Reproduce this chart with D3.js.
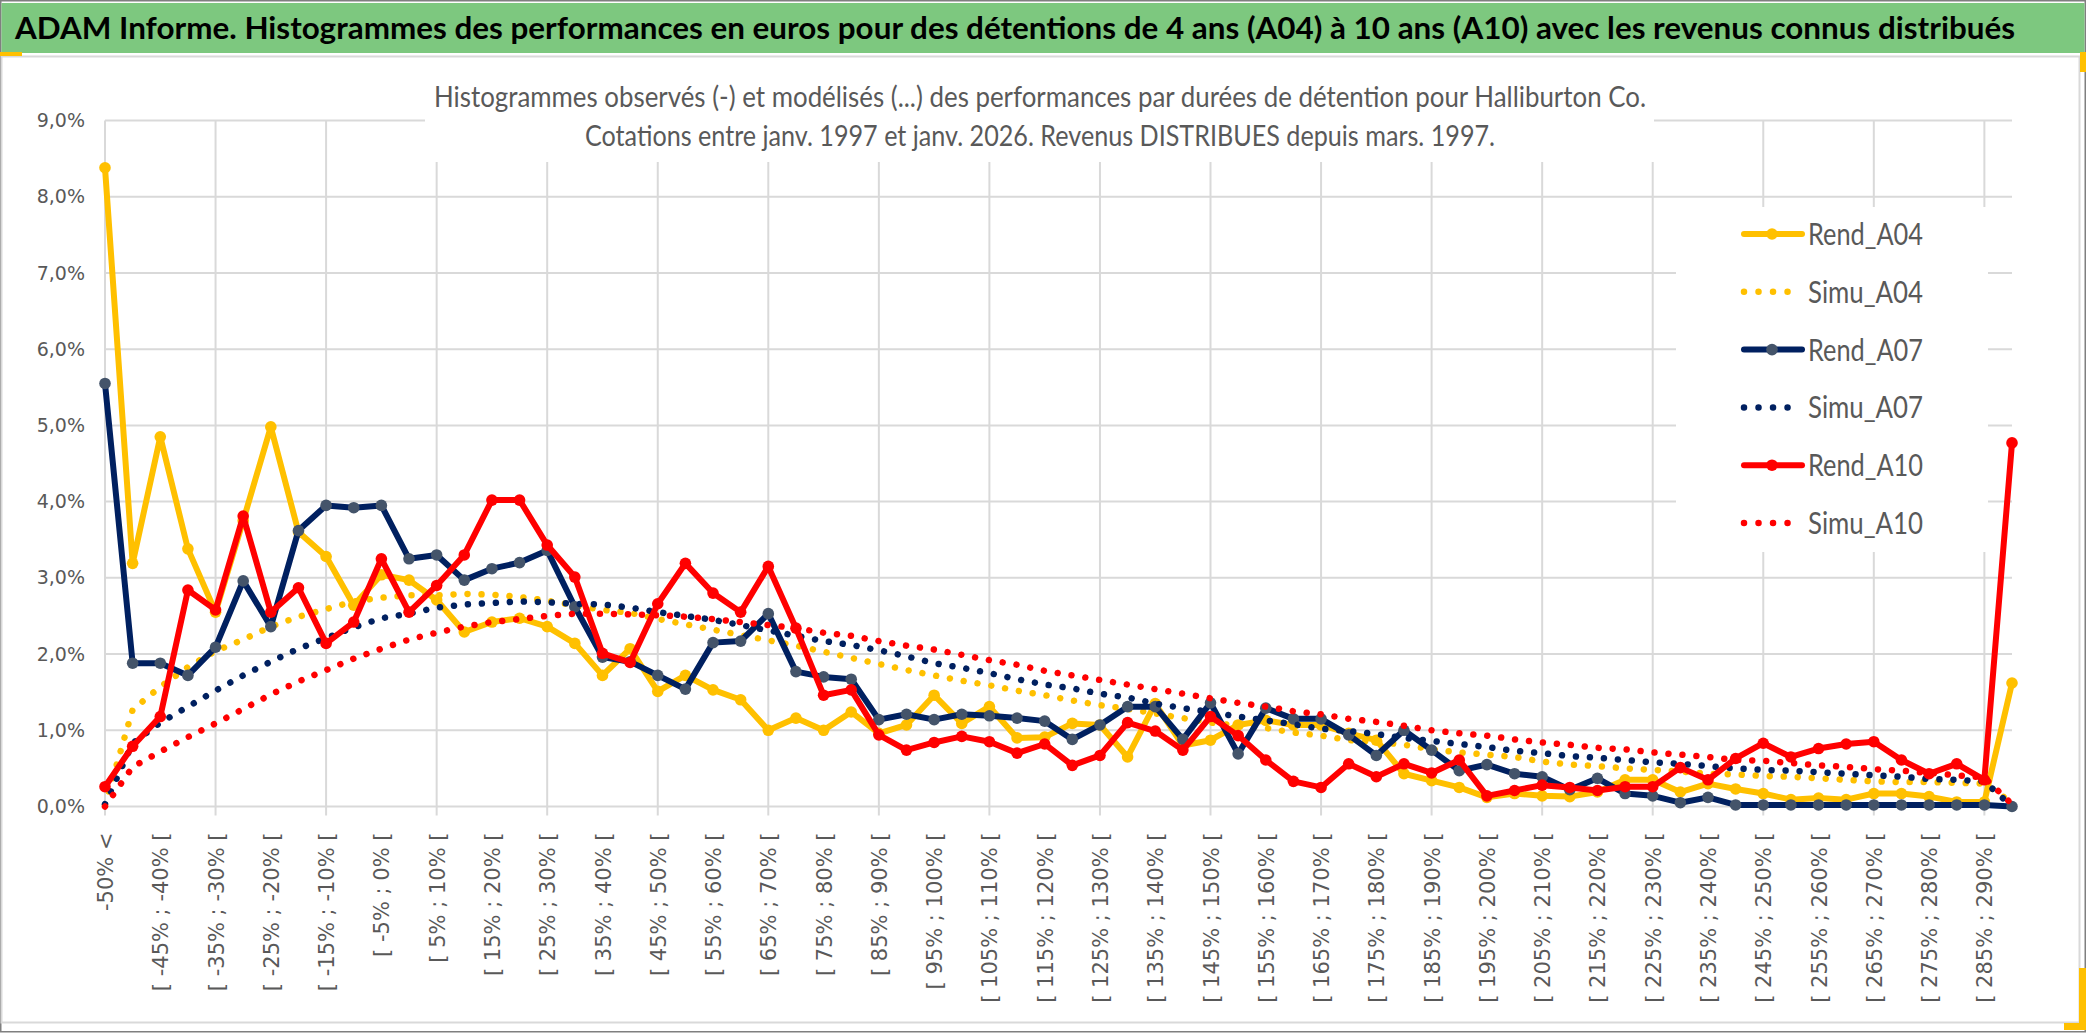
<!DOCTYPE html>
<html>
<head>
<meta charset="utf-8">
<script src="https://cdn.jsdelivr.net/npm/d3@7"></script>
<style>
body { margin: 0; background: #fff; }
svg { display: block; }
</style>
</head>
<body>
<svg width="2086" height="1033"></svg>
<script>
// categories of the histogram (5% classes)
var categories = ["-50% <",
 "[ -50% ; -45% [", "[ -45% ; -40% [", "[ -40% ; -35% [", "[ -35% ; -30% [", "[ -30% ; -25% [", "[ -25% ; -20% [",
 "[ -20% ; -15% [", "[ -15% ; -10% [", "[ -10% ; -5% [", "[ -5% ; 0% [", "[ 0% ; 5% [", "[ 5% ; 10% [",
 "[ 10% ; 15% [", "[ 15% ; 20% [", "[ 20% ; 25% [", "[ 25% ; 30% [", "[ 30% ; 35% [", "[ 35% ; 40% [",
 "[ 40% ; 45% [", "[ 45% ; 50% [", "[ 50% ; 55% [", "[ 55% ; 60% [", "[ 60% ; 65% [", "[ 65% ; 70% [",
 "[ 70% ; 75% [", "[ 75% ; 80% [", "[ 80% ; 85% [", "[ 85% ; 90% [", "[ 90% ; 95% [", "[ 95% ; 100% [",
 "[ 100% ; 105% [", "[ 105% ; 110% [", "[ 110% ; 115% [", "[ 115% ; 120% [", "[ 120% ; 125% [", "[ 125% ; 130% [",
 "[ 130% ; 135% [", "[ 135% ; 140% [", "[ 140% ; 145% [", "[ 145% ; 150% [", "[ 150% ; 155% [", "[ 155% ; 160% [",
 "[ 160% ; 165% [", "[ 165% ; 170% [", "[ 170% ; 175% [", "[ 175% ; 180% [", "[ 180% ; 185% [", "[ 185% ; 190% [",
 "[ 190% ; 195% [", "[ 195% ; 200% [", "[ 200% ; 205% [", "[ 205% ; 210% [", "[ 210% ; 215% [", "[ 215% ; 220% [",
 "[ 220% ; 225% [", "[ 225% ; 230% [", "[ 230% ; 235% [", "[ 235% ; 240% [", "[ 240% ; 245% [", "[ 245% ; 250% [",
 "[ 250% ; 255% [", "[ 255% ; 260% [", "[ 260% ; 265% [", "[ 265% ; 270% [", "[ 270% ; 275% [", "[ 275% ; 280% [",
 "[ 280% ; 285% [", "[ 285% ; 290% [", "> 290%"];

// observed frequencies, in %
var rendA04 = [8.38, 3.19, 4.85, 3.38, 2.55, 3.75, 4.98, 3.60, 3.28, 2.64, 3.04, 2.97, 2.71, 2.29, 2.42, 2.47, 2.36,
 2.14, 1.72, 2.07, 1.51, 1.72, 1.53, 1.40, 1.00, 1.16, 1.00, 1.24, 0.96, 1.07, 1.46, 1.09, 1.31, 0.90, 0.91, 1.09,
 1.07, 0.65, 1.35, 0.80, 0.87, 1.07, 1.13, 1.07, 1.07, 0.96, 0.87, 0.43, 0.34, 0.25, 0.12, 0.17, 0.14, 0.13, 0.19,
 0.35, 0.35, 0.19, 0.30, 0.23, 0.17, 0.09, 0.11, 0.09, 0.17, 0.17, 0.13, 0.06, 0.06, 1.62];
var rendA07 = [5.55, 1.88, 1.88, 1.72, 2.09, 2.96, 2.36, 3.62, 3.95, 3.92, 3.95, 3.25, 3.30, 2.97, 3.12, 3.20, 3.36,
 2.62, 1.96, 1.90, 1.72, 1.54, 2.15, 2.17, 2.53, 1.77, 1.70, 1.67, 1.14, 1.21, 1.14, 1.21, 1.19, 1.16, 1.12, 0.88,
 1.07, 1.31, 1.31, 0.88, 1.36, 0.69, 1.29, 1.15, 1.15, 0.94, 0.67, 1.00, 0.74, 0.47, 0.55, 0.43, 0.39, 0.22, 0.37,
 0.17, 0.14, 0.05, 0.12, 0.02, 0.02, 0.02, 0.02, 0.02, 0.02, 0.02, 0.02, 0.02, 0.02, 0.00];
var rendA10 = [0.26, 0.79, 1.18, 2.84, 2.58, 3.81, 2.55, 2.87, 2.14, 2.42, 3.25, 2.55, 2.90, 3.30, 4.02, 4.02, 3.43,
 3.01, 2.01, 1.89, 2.66, 3.19, 2.80, 2.55, 3.15, 2.34, 1.46, 1.53, 0.94, 0.74, 0.84, 0.92, 0.85, 0.70, 0.82, 0.54,
 0.67, 1.10, 0.99, 0.74, 1.18, 0.93, 0.61, 0.33, 0.25, 0.56, 0.39, 0.56, 0.44, 0.61, 0.14, 0.21, 0.28, 0.25, 0.21,
 0.26, 0.26, 0.51, 0.35, 0.63, 0.83, 0.65, 0.76, 0.82, 0.85, 0.61, 0.43, 0.56, 0.35, 4.77];

// modelled frequencies, in %
var simuA04 = [0.02, 1.27, 1.57, 1.83, 2.04, 2.19, 2.36, 2.49, 2.59, 2.69, 2.74, 2.77, 2.77, 2.79, 2.78, 2.75, 2.70,
 2.64, 2.58, 2.54, 2.46, 2.39, 2.32, 2.25, 2.18, 2.11, 2.03, 1.95, 1.87, 1.79, 1.72, 1.65, 1.59, 1.52, 1.46, 1.39,
 1.33, 1.28, 1.22, 1.16, 1.10, 1.06, 1.03, 0.97, 0.93, 0.87, 0.85, 0.81, 0.75, 0.71, 0.68, 0.65, 0.59, 0.55, 0.53,
 0.50, 0.48, 0.46, 0.43, 0.42, 0.40, 0.39, 0.37, 0.35, 0.33, 0.32, 0.32, 0.31, 0.30, 0.05];
var simuA07 = [0.03, 0.83, 1.10, 1.31, 1.52, 1.72, 1.90, 2.07, 2.21, 2.35, 2.47, 2.53, 2.61, 2.65, 2.67, 2.69, 2.68,
 2.66, 2.65, 2.61, 2.55, 2.50, 2.45, 2.38, 2.31, 2.24, 2.17, 2.12, 2.05, 1.97, 1.88, 1.82, 1.75, 1.67, 1.60, 1.55,
 1.48, 1.43, 1.35, 1.29, 1.24, 1.18, 1.13, 1.08, 1.02, 0.99, 0.95, 0.90, 0.86, 0.82, 0.78, 0.73, 0.70, 0.66, 0.64,
 0.61, 0.58, 0.56, 0.53, 0.50, 0.48, 0.47, 0.45, 0.43, 0.41, 0.39, 0.36, 0.35, 0.33, 0.00];
var simuA10 = [0.00, 0.52, 0.72, 0.91, 1.09, 1.28, 1.47, 1.64, 1.79, 1.94, 2.07, 2.19, 2.28, 2.36, 2.42, 2.46, 2.50,
 2.53, 2.53, 2.52, 2.51, 2.49, 2.46, 2.42, 2.38, 2.34, 2.28, 2.24, 2.17, 2.11, 2.06, 1.99, 1.92, 1.86, 1.78, 1.72,
 1.66, 1.60, 1.54, 1.48, 1.42, 1.36, 1.31, 1.25, 1.21, 1.15, 1.11, 1.06, 1.00, 0.96, 0.93, 0.88, 0.84, 0.81, 0.77,
 0.75, 0.71, 0.68, 0.65, 0.61, 0.60, 0.57, 0.54, 0.52, 0.49, 0.47, 0.44, 0.41, 0.38, 0.03];

var yTicks = [0, 1, 2, 3, 4, 5, 6, 7, 8, 9];

var seriesNames = ["Rend_A04", "Simu_A04", "Rend_A07", "Simu_A07", "Rend_A10", "Simu_A10"];

var titleText = "ADAM Informe. Histogrammes des performances en euros pour des détentions de 4 ans (A04) à 10 ans (A10) avec les revenus connus distribués";
var subTitle1 = "Histogrammes observés (-) et modélisés (...) des performances par durées de détention pour Halliburton Co.";
var subTitle2 = "Cotations entre janv. 1997 et janv. 2026. Revenus DISTRIBUES depuis mars. 1997.";

var series = [
  {name: seriesNames[0], values: rendA04, color: "#FFC000", marker: "#FFC000", dotted: false},
  {name: seriesNames[1], values: simuA04, color: "#FFC000", dotted: true},
  {name: seriesNames[2], values: rendA07, color: "#002060", marker: "#44546A", dotted: false},
  {name: seriesNames[3], values: simuA07, color: "#002060", dotted: true},
  {name: seriesNames[4], values: rendA10, color: "#FF0000", marker: "#FF0000", dotted: false},
  {name: seriesNames[5], values: simuA10, color: "#FF0000", dotted: true}
];

var svg = d3.select("svg");
var grey = "#595959", gridCol = "#D9D9D9";

// image border, title banner and chart frame
svg.append("rect").attr("x", 0.75).attr("y", 0.75).attr("width", 2084.5).attr("height", 1031)
  .attr("fill", "#fff").attr("stroke", "#7f7f7f").attr("stroke-width", 1.5);
svg.append("rect").attr("x", 1.5).attr("y", 3).attr("width", 2083).attr("height", 50).attr("fill", "#7DC87F");
svg.append("rect").attr("x", 1.5).attr("y", 56.5).attr("width", 2078).attr("height", 966)
  .attr("fill", "#fff").attr("stroke", gridCol).attr("stroke-width", 2);
// excel selection handles
svg.append("rect").attr("x", 0).attr("y", 52).attr("width", 22).attr("height", 4).attr("fill", "#FFC000");
svg.append("rect").attr("x", 2080).attr("y", 52).attr("width", 6).attr("height", 20).attr("fill", "#FFC000");
svg.append("rect").attr("x", 2079).attr("y", 968).attr("width", 7).attr("height", 62).attr("fill", "#FFC000");
svg.append("rect").attr("x", 2064).attr("y", 1023).attr("width", 22).attr("height", 7).attr("fill", "#FFC000");

svg.append("text")
  .attr("x", 15).attr("y", 39)
  .attr("textLength", 2000).attr("lengthAdjust", "spacingAndGlyphs")
  .style("font-family", "Lato, 'Open Sans', sans-serif").style("font-weight", "bold")
  .style("font-size", "31px").attr("fill", "#000")
  .text(titleText);

var x = d3.scalePoint().domain(categories).range([105, 2012]);
var y = d3.scaleLinear().domain([0, 9]).range([806.5, 120.5]);

// grid
var g = svg.append("g");
g.selectAll(".hgrid").data(yTicks).enter().append("line")
  .attr("x1", 105).attr("x2", 2012)
  .attr("y1", function(d) { return y(d); }).attr("y2", function(d) { return y(d); })
  .attr("stroke", gridCol).attr("stroke-width", 2);
g.selectAll(".vgrid").data(categories.filter(function(d, i) { return i % 4 == 0; })).enter().append("line")
  .attr("x1", function(d) { return x(d); }).attr("x2", function(d) { return x(d); })
  .attr("y1", y(9)).attr("y2", y(0) + 9)
  .attr("stroke", gridCol).attr("stroke-width", 2);

// y axis labels
var yAxis = svg.append("g").attr("transform", "translate(105,0)")
  .call(d3.axisLeft(y).tickValues(yTicks).tickSize(0).tickPadding(20)
    .tickFormat(function(d) { return d.toFixed(1).replace(".", ",") + "%"; }));
yAxis.select(".domain").remove();
yAxis.selectAll("text").style("font-family", "'DejaVu Sans', Verdana, sans-serif")
  .style("font-size", "19px").attr("fill", grey);

// x axis labels, every other class
var xAxis = svg.append("g").attr("transform", "translate(0," + y(0) + ")")
  .call(d3.axisBottom(x).tickValues(categories.filter(function(d, i) { return i % 2 == 0; })).tickSize(0));
xAxis.select(".domain").remove();
xAxis.selectAll("text")
  .attr("transform", "rotate(-90)")
  .attr("x", -26).attr("y", 0).attr("dy", "0.36em")
  .style("text-anchor", "end")
  .style("font-family", "'DejaVu Sans', Verdana, sans-serif")
  .style("font-size", "21px").attr("fill", grey);

// white boxes of the chart title and the legend
svg.append("rect").attr("x", 425).attr("y", 60).attr("width", 1229).attr("height", 102).attr("fill", "#fff");
svg.append("rect").attr("x", 1676).attr("y", 207).attr("width", 312).attr("height", 345).attr("fill", "#fff");

svg.append("text").attr("x", 1040).attr("y", 107).attr("text-anchor", "middle")
  .attr("textLength", 1212).attr("lengthAdjust", "spacingAndGlyphs")
  .style("font-family", "Lato, 'Open Sans', sans-serif").style("font-size", "29px").attr("fill", grey)
  .text(subTitle1);
svg.append("text").attr("x", 1040).attr("y", 146).attr("text-anchor", "middle")
  .attr("textLength", 910).attr("lengthAdjust", "spacingAndGlyphs")
  .style("font-family", "Lato, 'Open Sans', sans-serif").style("font-size", "29px").attr("fill", grey)
  .text(subTitle2);

// series
var line = d3.line()
  .x(function(d, i) { return x(categories[i]); })
  .y(function(d) { return y(d); });

series.forEach(function(s) {
  var p = svg.append("path").datum(s.values)
    .attr("d", line).attr("fill", "none")
    .attr("stroke", s.color).attr("stroke-width", s.dotted ? 6.5 : 6)
    .attr("stroke-linejoin", "round").attr("stroke-linecap", "round");
  if (s.dotted) {
    p.attr("stroke-dasharray", "0.01 14");
  } else {
    svg.append("g").selectAll("circle").data(s.values).enter().append("circle")
      .attr("cx", function(d, i) { return x(categories[i]); })
      .attr("cy", function(d) { return y(d); })
      .attr("r", 5.8).attr("fill", s.marker);
  }
});

// legend
var leg = svg.append("g");
series.forEach(function(s, i) {
  var ly = 234 + i * 57.8;
  var l = leg.append("line").attr("x1", 1744).attr("x2", 1802).attr("y1", ly).attr("y2", ly)
    .attr("stroke", s.color).attr("stroke-width", s.dotted ? 6.5 : 6).attr("stroke-linecap", "round");
  if (s.dotted) {
    l.attr("stroke-dasharray", "0.01 14.5");
  } else {
    leg.append("circle").attr("cx", 1772).attr("cy", ly).attr("r", 5.8).attr("fill", s.marker);
  }
  leg.append("text").attr("x", 1808).attr("y", ly + 11)
    .attr("textLength", 115).attr("lengthAdjust", "spacingAndGlyphs")
    .style("font-family", "Lato, 'Open Sans', sans-serif").style("font-size", "31px").attr("fill", grey)
    .text(s.name);
});
</script>
</body>
</html>
